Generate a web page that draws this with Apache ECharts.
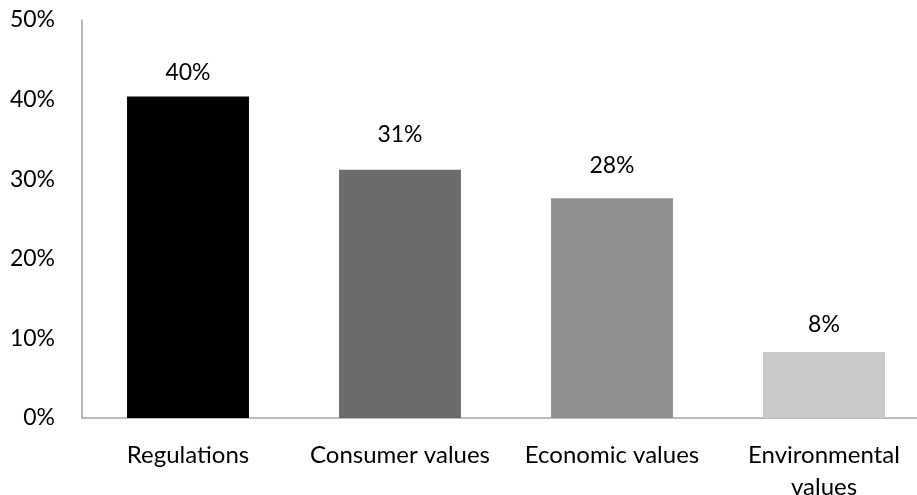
<!DOCTYPE html>
<html>
<head>
<meta charset="utf-8">
<script src="https://cdn.jsdelivr.net/npm/echarts@6/dist/echarts.min.js"></script>
<style>
  html, body { margin: 0; padding: 0; background: #fff; }
  #chart { width: 917px; height: 495px; }
</style>
</head>
<body>
<div id="chart"></div>
<script>
// Share of respondents citing each driver (percent)
const categories = ['Regulations', 'Consumer values', 'Economic values', 'Environmental\nvalues'];
const shares = [40.4, 31.2, 27.6, 8.3];
const yTicks = [0, 10, 20, 30, 40, 50];

// Styling
const barColors = ['#000000', '#6b6b6b', '#8f8f8f', '#c9c9c9'];
const labelGaps = [12, 24, 21, 16];
const font = 'Lato, "Open Sans", sans-serif';

const chart = echarts.init(document.getElementById('chart'), null, { renderer: 'canvas' });

chart.setOption({
  animation: false,
  backgroundColor: '#ffffff',
  grid: { left: 82, right: -13, top: 20, bottom: 77, containLabel: false, outerBoundsMode: 'none' },
  xAxis: {
    type: 'category',
    data: categories,
    axisLine: { show: true, lineStyle: { color: '#a6a6a6', width: 1.5 } },
    axisTick: { show: false },
    axisLabel: {
      interval: 0,
      hideOverlap: false,
      color: '#000', fontFamily: font, fontSize: 24, margin: 21, lineHeight: 32
    }
  },
  yAxis: {
    type: 'value',
    min: yTicks[0],
    max: yTicks[yTicks.length - 1],
    interval: 10,
    axisLine: { show: true, lineStyle: { color: '#a6a6a6', width: 1.5 } },
    axisTick: { show: false },
    splitLine: { show: false },
    axisLabel: {
      color: '#000', fontFamily: font, fontSize: 23, margin: 27,
      formatter: v => v + '%'
    }
  },
  series: [{
    type: 'bar',
    barWidth: '57.5%',
    data: shares.map((v, i) => ({
      value: v,
      itemStyle: { color: barColors[i] },
      label: { distance: labelGaps[i] }
    })),
    label: {
      show: true,
      position: 'top',
      color: '#000',
      fontFamily: font,
      fontSize: 23,
      formatter: p => Math.round(p.value) + '%'
    }
  }]
});
</script>
</body>
</html>
